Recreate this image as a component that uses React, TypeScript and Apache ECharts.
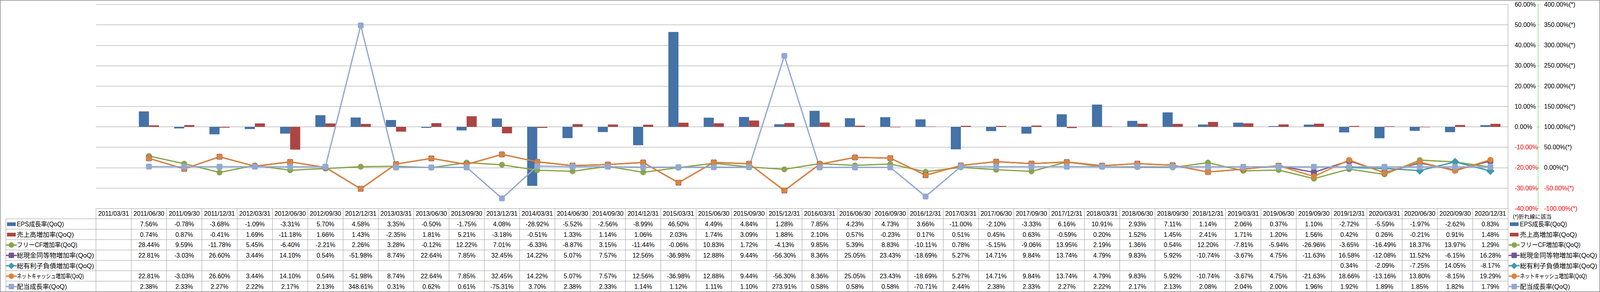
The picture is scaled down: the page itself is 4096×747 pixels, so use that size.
import React, { useEffect, useRef } from 'react';
import * as echarts from 'echarts';

const dates = [
  '2011/03/31', '2011/06/30', '2011/09/30', '2011/12/31',
  '2012/03/31', '2012/06/30', '2012/09/30', '2012/12/31',
  '2013/03/31', '2013/06/30', '2013/09/30', '2013/12/31',
  '2014/03/31', '2014/06/30', '2014/09/30', '2014/12/31',
  '2015/03/31', '2015/06/30', '2015/09/30', '2015/12/31',
  '2016/03/31', '2016/06/30', '2016/09/30', '2016/12/31',
  '2017/03/31', '2017/06/30', '2017/09/30', '2017/12/31',
  '2018/03/31', '2018/06/30', '2018/09/30', '2018/12/31',
  '2019/03/31', '2019/06/30', '2019/09/30', '2019/12/31',
  '2020/03/31', '2020/06/30', '2020/09/30', '2020/12/31',
];

const epsGrowth = [null, 7.56, -0.78, -3.68, -1.09, -3.31, 5.70, 4.58, 3.35, -0.50, -1.75, 4.08, -28.92, -5.52, -2.56, -8.99, 46.50, 4.49, 4.84, 1.28, 7.85, 4.23, 4.73, 3.66, -11.00, -2.10, -3.33, 6.16, 10.91, 2.93, 7.11, 1.14, 2.06, 0.37, 1.10, -2.72, -5.59, -1.97, -2.62, 0.83];
const salesGrowth = [null, 0.74, 0.87, -0.41, 1.69, -11.18, 1.66, 1.43, -2.35, 1.81, 5.21, -3.18, -0.51, 1.33, 1.14, 1.06, 2.03, 1.74, 3.09, 1.88, 2.10, 0.57, -0.23, 0.17, 0.51, 0.45, 0.63, -0.59, 0.20, 1.52, 1.45, 2.41, 1.71, 1.20, 1.56, 0.42, 0.26, -0.21, 0.91, 1.48];
const fcfGrowth = [null, 28.44, 9.59, -11.78, 5.45, -6.40, -2.21, 2.26, 3.28, -0.12, 12.22, 7.01, -6.33, -8.87, 3.15, -11.44, -0.06, 10.83, 1.72, -4.13, 9.85, 5.39, 8.83, -10.11, 0.78, -5.15, -9.06, 13.95, 2.19, 1.36, 0.54, 12.20, -7.81, -5.94, -26.96, -3.65, -16.49, 18.37, 13.97, 1.29];
const cashGrowth = [null, 22.81, -3.03, 26.60, 3.44, 14.10, 0.54, -51.98, 8.74, 22.64, 7.85, 32.45, 14.22, 5.07, 7.57, 12.56, -36.98, 12.88, 9.44, -56.30, 8.36, 25.05, 23.43, -18.69, 5.27, 14.71, 9.84, 13.74, 4.79, 9.83, 5.92, -10.74, -3.67, 4.75, -11.63, 16.58, -12.08, 11.52, -6.15, 16.28];
const debtGrowth = [null, null, null, null, null, null, null, null, null, null, null, null, null, null, null, null, null, null, null, null, null, null, null, null, null, null, null, null, null, null, null, null, null, null, null, 0.34, -2.09, -7.25, 14.05, -8.17];
const netCashGrowth = [null, 22.81, -3.03, 26.60, 3.44, 14.10, 0.54, -51.98, 8.74, 22.64, 7.85, 32.45, 14.22, 5.07, 7.57, 12.56, -36.98, 12.88, 9.44, -56.30, 8.36, 25.05, 23.43, -18.69, 5.27, 14.71, 9.84, 13.74, 4.79, 9.83, 5.92, -10.74, -3.67, 4.75, -21.63, 18.66, -13.16, 13.80, -8.15, 19.29];
const dividendGrowth = [null, 2.38, 2.33, 2.27, 2.22, 2.17, 2.13, 348.61, 0.31, 0.62, 0.61, -75.31, 3.70, 2.38, 2.33, 1.14, 1.12, 1.11, 1.10, 273.91, 0.58, 0.58, 0.58, -70.71, 2.44, 2.38, 2.33, 2.27, 2.22, 2.17, 2.13, 2.08, 2.04, 2.00, 1.96, 1.92, 1.89, 1.85, 1.82, 1.79];

const seriesNames = [
  'EPS成長率(QoQ)',
  '売上高増加率(QoQ)',
  'フリーCF増加率(QoQ)',
  '総現金同等物増加率(QoQ)',
  '総有利子負債増加率(QoQ)',
  'ネットキャッシュ増加率(QoQ)',
  '配当成長率(QoQ)',
];
const seriesData = [epsGrowth, salesGrowth, fcfGrowth, cashGrowth, debtGrowth, netCashGrowth, dividendGrowth];
const seriesColors = ['#4572A7', '#AA4643', '#89A54E', '#71588F', '#4198AF', '#DB843D', '#93A9CF'];
const seriesKinds = ['bar', 'bar', 'circle', 'roundRect', 'diamond', 'circle', 'roundRect'];
// horizontal squeeze of each label so it spans the reference's width
const labelScaleX = [0.97, 1.04, 0.96, 1.05, 1.05, 0.78, 1.03];

const lineNote = '(*)折れ線に該当';

const FONT = "'Liberation Sans', 'Noto Sans CJK JP', sans-serif";

// layout (px in the 4096x747 window)
const W = 4096;
const H = 747;
const GL = 245.7;
const GR = 3860.6;
const GT = 11.4;
const GB = 533.2;
const ROW_H = 26.58;
const LABEL_L = 14.9;
const TABLE_B = 745.8;
const LINE_COLOR = '#9a9a9a';

function fmt(v: number | null) {
  return v === null || v === undefined ? '' : v.toFixed(2) + '%';
}

function markerEls(idx: number, x0: number, cy: number): any[] {
  const color = seriesColors[idx];
  const kind = seriesKinds[idx];
  if (kind === 'bar') {
    return [{ type: 'rect', silent: true, shape: { x: x0 + 1.6, y: cy - 4.7, width: 22.4, height: 9.4 }, style: { fill: color } }];
  }
  const cx = x0 + 12.8;
  const els: any[] = [
    { type: 'line', silent: true, shape: { x1: x0, y1: cy, x2: x0 + 25.6, y2: cy }, style: { stroke: color, lineWidth: 3.3, lineCap: 'round' } },
  ];
  if (kind === 'circle') {
    els.push({ type: 'circle', silent: true, shape: { cx, cy, r: 7 }, style: { fill: color } });
  } else if (kind === 'roundRect') {
    els.push({ type: 'rect', silent: true, shape: { x: cx - 7, y: cy - 7, width: 14, height: 14, r: 2 }, style: { fill: color } });
  } else {
    els.push({ type: 'polygon', silent: true, shape: { points: [[cx, cy - 8.5], [cx + 8.5, cy], [cx, cy + 8.5], [cx - 8.5, cy]] }, style: { fill: color } });
  }
  return els;
}

function buildGraphics(): any[] {
  const els: any[] = [];
  const n = dates.length;
  const colW = (GR - GL) / n;
  els.push({ type: 'rect', silent: true, shape: { x: 0.75, y: 0.75, width: W - 1.5, height: H - 1.5 }, style: { fill: 'none', stroke: '#8a8a8a', lineWidth: 1.5 } });
  for (let k = 1; k <= 7; k++) {
    const y = GB + ROW_H * k;
    els.push({ type: 'line', silent: true, shape: { x1: LABEL_L, y1: y, x2: GR, y2: y }, style: { stroke: LINE_COLOR, lineWidth: 1 } });
  }
  els.push({ type: 'line', silent: true, shape: { x1: LABEL_L, y1: GB + ROW_H, x2: LABEL_L, y2: TABLE_B }, style: { stroke: LINE_COLOR, lineWidth: 1 } });
  for (let k = 0; k <= n; k++) {
    const x = GL + colW * k;
    els.push({ type: 'line', silent: true, shape: { x1: x, y1: GB, x2: x, y2: TABLE_B }, style: { stroke: LINE_COLOR, lineWidth: 1 } });
  }
  dates.forEach((d, i) => {
    els.push({
      type: 'text', silent: true,
      style: { text: d, x: GL + colW * (i + 0.5), y: GB + ROW_H / 2 + 0.5, fill: '#000', fontSize: 16, fontFamily: FONT, align: 'center', verticalAlign: 'middle' },
    });
  });
  seriesNames.forEach((name, r) => {
    const cy = GB + ROW_H * (r + 1) + ROW_H / 2 + 0.5;
    markerEls(r, 16.3, cy).forEach((e) => els.push(e));
    els.push({ type: 'text', silent: true, x: 43, y: cy, scaleX: labelScaleX[r], style: { text: name, x: 0, y: 0, fill: '#000', fontSize: 16, fontFamily: FONT, align: 'left', verticalAlign: 'middle' } });
    seriesData[r].forEach((v, i) => {
      const t = fmt(v as any);
      if (!t) return;
      els.push({ type: 'text', silent: true, style: { text: t, x: GL + colW * (i + 0.5), y: cy, fill: '#000', fontSize: 16, fontFamily: FONT, align: 'center', verticalAlign: 'middle' } });
    });
    markerEls(r, 3863.5, cy).forEach((e) => els.push(e));
    els.push({ type: 'text', silent: true, x: 3891, y: cy, scaleX: labelScaleX[r], style: { text: name, x: 0, y: 0, fill: '#000', fontSize: 16, fontFamily: FONT, align: 'left', verticalAlign: 'middle' } });
  });
  els.push({ type: 'text', silent: true, style: { text: lineNote, x: 3873, y: 553.5, fill: '#000', fontSize: 14, fontFamily: FONT, align: 'left', verticalAlign: 'middle' } });
  return els;
}

export default function App() {
  const ref = useRef<HTMLDivElement>(null);
  useEffect(() => {
    document.body.style.margin = '0';
    if (!ref.current) return;
    const chart = echarts.init(ref.current, null, { renderer: 'svg' });
    const series: any[] = seriesNames.map((name, i) => {
      if (seriesKinds[i] === 'bar') {
        return {
          name, type: 'bar', yAxisIndex: 0, data: seriesData[i],
          barWidth: 25.8, barGap: '0%',
          itemStyle: { color: seriesColors[i] },
        };
      }
      return {
        name, type: 'line', yAxisIndex: 1, data: seriesData[i],
        symbol: seriesKinds[i],
        symbolSize: seriesKinds[i] === 'diamond' ? 21 : 15,
        showAllSymbol: true,
        connectNulls: false,
        lineStyle: { color: seriesColors[i], width: 3.3 },
        itemStyle: { color: seriesColors[i] },
      };
    });
    chart.setOption({
      animation: false,
      backgroundColor: '#ffffff',
      textStyle: { fontFamily: FONT },
      grid: { left: GL, right: W - GR, top: GT, bottom: H - GB, containLabel: false },
      xAxis: {
        type: 'category',
        data: dates,
        boundaryGap: true,
        axisLine: { show: true, lineStyle: { color: LINE_COLOR, width: 1 } },
        axisTick: { show: false },
        axisLabel: { show: false },
        splitLine: { show: false },
      },
      yAxis: [
        {
          type: 'value', position: 'right', min: -40, max: 60, interval: 10,
          axisLine: { show: true, lineStyle: { color: LINE_COLOR, width: 1 } },
          axisTick: { show: false },
          axisLabel: {
            margin: 16.8, fontSize: 16, fontFamily: FONT,
            formatter: (v: number) => Number(v).toFixed(2) + '%',
            color: (v: any) => (parseFloat(v) < 0 ? '#FF0000' : '#000000'),
          },
          splitLine: { show: true, lineStyle: { color: LINE_COLOR, width: 1 } },
        },
        {
          type: 'value', position: 'right', offset: 76.2, min: -100, max: 400, interval: 50,
          axisLine: { show: true, lineStyle: { color: '#00D000', width: 1, type: [3, 2] } },
          axisTick: { show: true, length: 6, lineStyle: { color: '#00D000', width: 1, type: [3, 2] } },
          axisLabel: {
            margin: 16, fontSize: 16, fontFamily: FONT,
            formatter: (v: number) => Number(v).toFixed(2) + '%(*)',
            color: (v: any) => (parseFloat(v) < 0 ? '#FF0000' : '#000000'),
          },
          splitLine: { show: false },
        },
      ],
      series,
      graphic: { elements: buildGraphics() },
    });
    return () => chart.dispose();
  }, []);
  return <div ref={ref} style={{ width: W, height: H }} />;
}
